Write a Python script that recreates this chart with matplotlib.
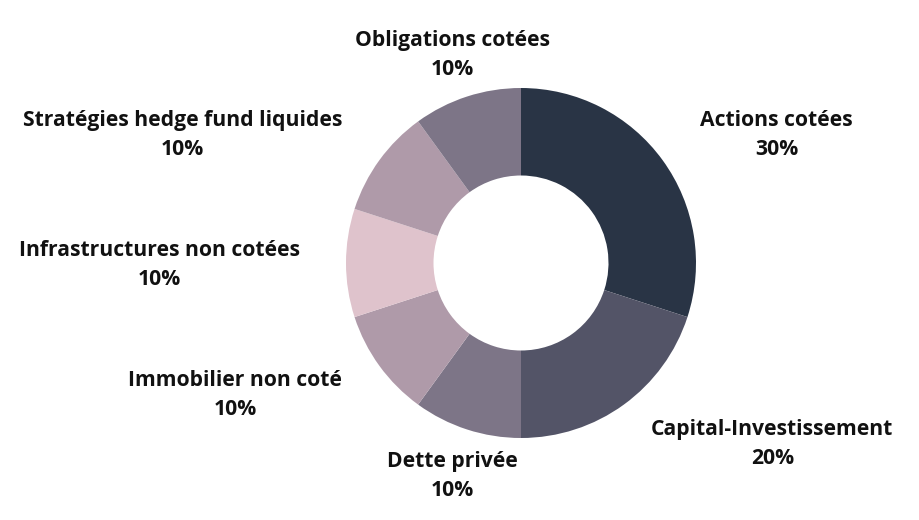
import numpy as np
import matplotlib
matplotlib.use("Agg")
import matplotlib.pyplot as plt

# --- data ---
labels = ["Actions cotées", "Capital-Investissement", "Dette privée",
          "Immobilier non coté", "Infrastructures non cotées",
          "Stratégies hedge fund liquides", "Obligations cotées"]
shares = [30, 20, 10, 10, 10, 10, 10]
colors = ["#293445", "#535467", "#7d7587", "#af9aa9", "#dfc3cc", "#af9aa9", "#7d7587"]

plt.rcParams['font.family'] = ['Open Sans', 'DejaVu Sans']

fig = plt.figure(figsize=(9.2, 5.2), dpi=100)
ax = fig.add_axes([0, 0, 1, 1])

wedges, _ = ax.pie(shares, colors=colors, startangle=90, counterclock=False,
                   radius=1.0, wedgeprops=dict(width=0.5, edgecolor='none'))

# labels placed along each slice's mid angle
for w, lab, val in zip(wedges, labels, shares):
    ang = np.deg2rad((w.theta1 + w.theta2) / 2)
    x, y = 1.265 * np.cos(ang), 1.265 * np.sin(ang) - 0.012
    c = np.cos(ang)
    if c > 0.4:
        ha = 'left'
    elif c < -0.4:
        ha = 'right'
    else:
        ha = 'center'
    ax.text(x, y, f"{lab}\n{val}%", ha=ha, va='center', multialignment='center',
            fontsize=15.2, fontweight='bold', color='#111111', linespacing=1.5)

# pie centre at (521, 263) px, radius 175 px
R = 175.0
ax.set_xlim(-521 / R, (920 - 521) / R)
ax.set_ylim(-(520 - 263) / R, 263 / R)
ax.set_aspect('auto')
ax.axis('off')

fig.savefig("out.png", dpi=100)
